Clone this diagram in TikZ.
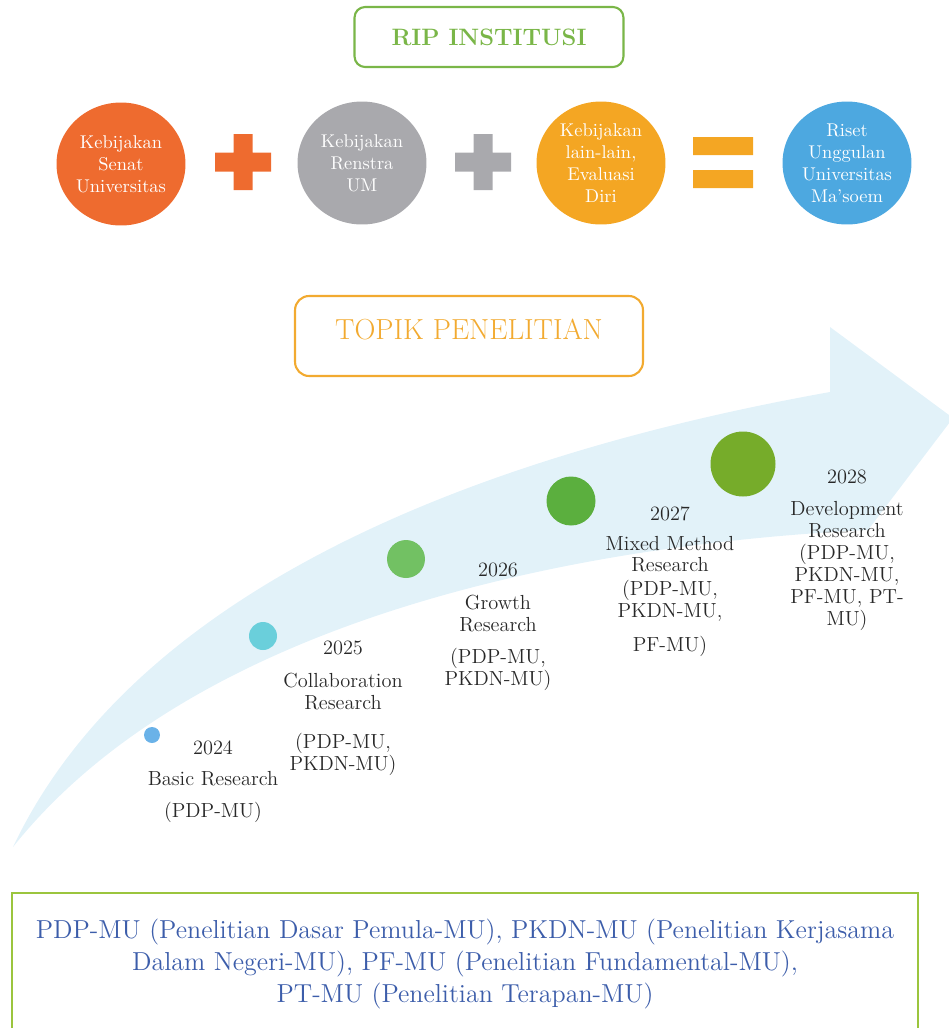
\documentclass[tikz,border=0pt]{standalone}
\usetikzlibrary{positioning, shapes.geometric}

\definecolor{ripgreen}{RGB}{122,182,72}
\definecolor{topikorange}{RGB}{242,170,48}
\definecolor{senatorange}{RGB}{238,107,47}
\definecolor{renstragray}{RGB}{169,169,173}
\definecolor{lainyellow}{RGB}{244,166,35}
\definecolor{risetblue}{RGB}{77,168,224}
\definecolor{bandblue}{RGB}{226,242,249}
\definecolor{legendgreen}{RGB}{155,197,61}
\definecolor{legendblue}{RGB}{60,93,170}
\definecolor{labelgray}{RGB}{40,40,40}
\definecolor{dotA}{RGB}{106,178,232}
\definecolor{dotB}{RGB}{106,207,219}
\definecolor{dotC}{RGB}{114,193,99}
\definecolor{dotD}{RGB}{91,175,62}
\definecolor{dotE}{RGB}{118,172,42}

\tikzset{
  ball/.style={ellipse, fill=#1, text=white, align=center, inner sep=0pt,
    minimum width=2.58cm, minimum height=2.46cm,
    font=\fontsize{10.5}{12.5}\selectfont},
  yeardot/.style={circle, fill=#1, inner sep=0pt},
  yearlabel/.style={anchor=north, align=center, inner sep=0pt, text=labelgray,
    font=\fontsize{11.6}{12.5}\selectfont}
}

\begin{document}
\begin{tikzpicture}[x=0.02cm, y=-0.02cm]
\useasboundingbox (0,0) rectangle (949,1028);
\begin{scope}
\clip (0,0) rectangle (949,1028);

% curved arrow in the background
\fill[bandblue] (13,847) .. controls (130,600) and (450,460) .. (830,392)
  -- (830,327) -- (953,418) -- (868,530)
  .. controls (560,545) and (190,625) .. (13,847) -- cycle;

% title boxes
\node[draw=ripgreen, line width=1.2pt, rounded corners=6pt, minimum width=5.38cm,
  minimum height=1.2cm, text=ripgreen, font=\fontsize{13.5}{15}\selectfont\bfseries]
  (rip) at (489,37) {RIP INSTITUSI};
\node[draw=topikorange, line width=1.2pt, rounded corners=8pt, minimum width=6.96cm,
  minimum height=1.6cm, text depth=0.26cm, text=topikorange,
  font=\fontsize{16.5}{18}\selectfont] (topik) at (469,336) {TOPIK PENELITIAN};

% RIP formula
\node[ball=senatorange] (senat) at (121,164) {Kebijakan\\Senat\\Universitas};
\node[ball=renstragray] (renstra) at (362,163) {Kebijakan\\Renstra\\UM};
\node[ball=lainyellow] (lain) at (601,163) {Kebijakan\\lain-lain,\\Evaluasi\\Diri};
\node[ball=risetblue] (riset) at (847,163) {Riset\\Unggulan\\Universitas\\Ma'soem};

\coordinate (plus1) at (243,162);
\coordinate (plus2) at (483,162);
\coordinate (equal) at (723,162);
\fill[senatorange, shift={(plus1)}] (-28,-9.5) rectangle (28,9.5) (-9.5,-28) rectangle (9.5,28);
\fill[renstragray, shift={(plus2)}] (-28,-9.5) rectangle (28,9.5) (-9.5,-28) rectangle (9.5,28);
\fill[lainyellow, shift={(equal)}] (-30,-25) rectangle (30,-7) (-30,8) rectangle (30,26);

% research topics per year
\node[yeardot=dotA, minimum size=0.32cm] (d2024) at (152,735) {};
\node[yeardot=dotB, minimum size=0.56cm] (d2025) at (263,636) {};
\node[yeardot=dotC, minimum size=0.76cm] (d2026) at (406,559) {};
\node[yeardot=dotD, minimum size=0.98cm] (d2027) at (571,501) {};
\node[yeardot=dotE, minimum size=1.3cm] (d2028) at (743,464) {};

\node[yearlabel] (l2024) at (213,740) {2024\\[5.6pt]Basic Research\\[5.6pt](PDP-MU)};
\node[yearlabel] (l2025) at (343,641) {2025\\[6.2pt]Collaboration\\Research\\[9.6pt](PDP-MU,\\PKDN-MU)};
\node[yearlabel] (l2026) at (498,563) {2026\\[6.2pt]Growth\\Research\\[5.6pt](PDP-MU,\\PKDN-MU)};
\node[yearlabel] (l2027) at (670,506) {2027\\[4.5pt]Mixed Method\\Research\\[1pt](PDP-MU,\\PKDN-MU,\\[6.8pt]PF-MU)};
\node[yearlabel] (l2028) at (847,470) {2028\\[5.6pt]Development\\Research\\(PDP-MU,\\PKDN-MU,\\PF-MU, PT-\\MU)};

% abbreviations
\node[draw=legendgreen, line width=1pt, minimum width=18.12cm, minimum height=2.84cm,
  align=center, text=legendblue, font=\fontsize{14.8}{18}\selectfont]
  (legend) at (465,964) {PDP-MU (Penelitian Dasar Pemula-MU), PKDN-MU (Penelitian Kerjasama\\
  Dalam Negeri-MU), PF-MU (Penelitian Fundamental-MU),\\
  PT-MU (Penelitian Terapan-MU)};
\end{scope}
\end{tikzpicture}
\end{document}
